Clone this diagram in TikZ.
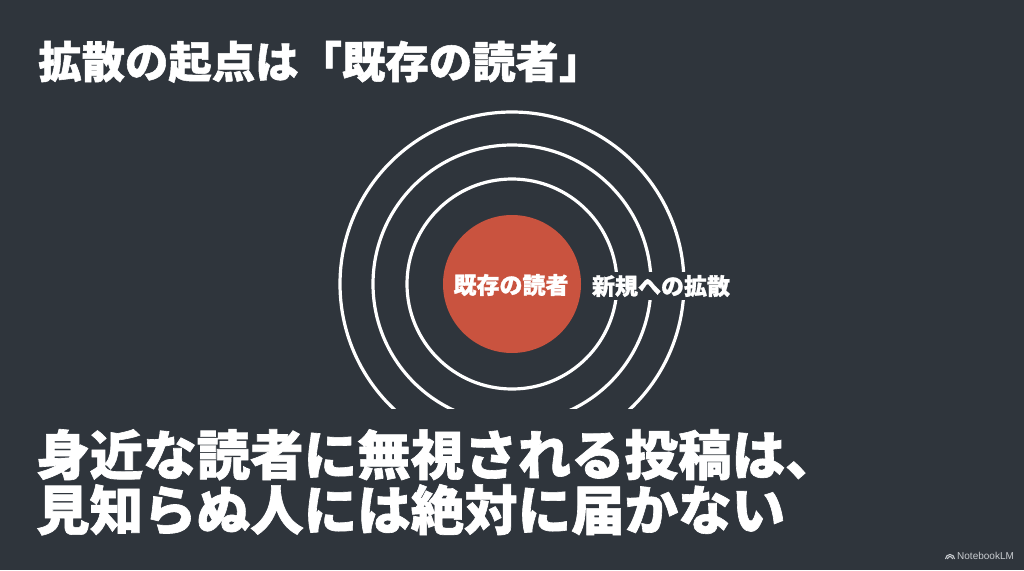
\documentclass[tikz,border=0pt]{standalone}
\usepackage{fontspec}
\setmainfont{Noto Sans CJK JP}[BoldFeatures={FakeBold=1.2}]
\setsansfont{Liberation Sans}
\definecolor{bg}{HTML}{2F353C}
\definecolor{core}{HTML}{C9533F}
\definecolor{logo}{HTML}{C8CCD0}
\tikzset{
  ringline/.style={circle, draw=white, line width=3.2pt, inner sep=0pt},
  title/.style={anchor=base west, text=white, font=\bfseries\fontsize{43.4}{50}\selectfont, inner sep=0pt},
  bigline/.style={anchor=base west, text=white, font=\bfseries\fontsize{53.5}{60}\selectfont, inner sep=0pt},
  smalltext/.style={text=white, font=\bfseries\fontsize{23}{28}\selectfont},
}
\begin{document}
\begin{tikzpicture}[x=1pt,y=-1pt]
\fill[bg] (0,0) rectangle (1024,570);
\useasboundingbox (0,0) rectangle (1024,570);
\coordinate (c) at (512,284);
\begin{scope}
  \clip (0,0) rectangle (1024,408);
  \node[ringline, minimum size=210pt] (r1) at (c) {};
  \node[ringline, minimum size=278pt] (r2) at (c) {};
  \node[ringline, minimum size=344pt] (r3) at (c) {};
\end{scope}
\node[circle, fill=core, minimum size=138pt, inner sep=0pt] (core) at (c) {};
\node[smalltext] (coretext) at (511,285) {既存の読者};
\node[smalltext, fill=bg, inner xsep=5pt, inner ysep=3pt] (spread) at (661,286) {新規への拡散};
\node[title] (t) at (38,78) {拡散の起点は「既存の読者」};
\node[bigline] (l1) at (36,475) {身近な読者に無視される投稿は、};
\node[bigline] (l2) at (36,530) {見知らぬ人には絶対に届かない};
% logo
\coordinate (ic) at (950,559);
\draw[logo, line width=1.1pt] ([shift={(-4.5,0)}]ic) arc[start angle=180, end angle=0, radius=4.5pt];
\draw[logo, line width=1.1pt] ([shift={(-2.5,0)}]ic) arc[start angle=180, end angle=0, radius=2.5pt];
\node[anchor=west, text=logo, font=\sffamily\fontsize{10}{11}\selectfont, inner sep=0pt] (nb) at (957,556) {NotebookLM};
\end{tikzpicture}
\end{document}
